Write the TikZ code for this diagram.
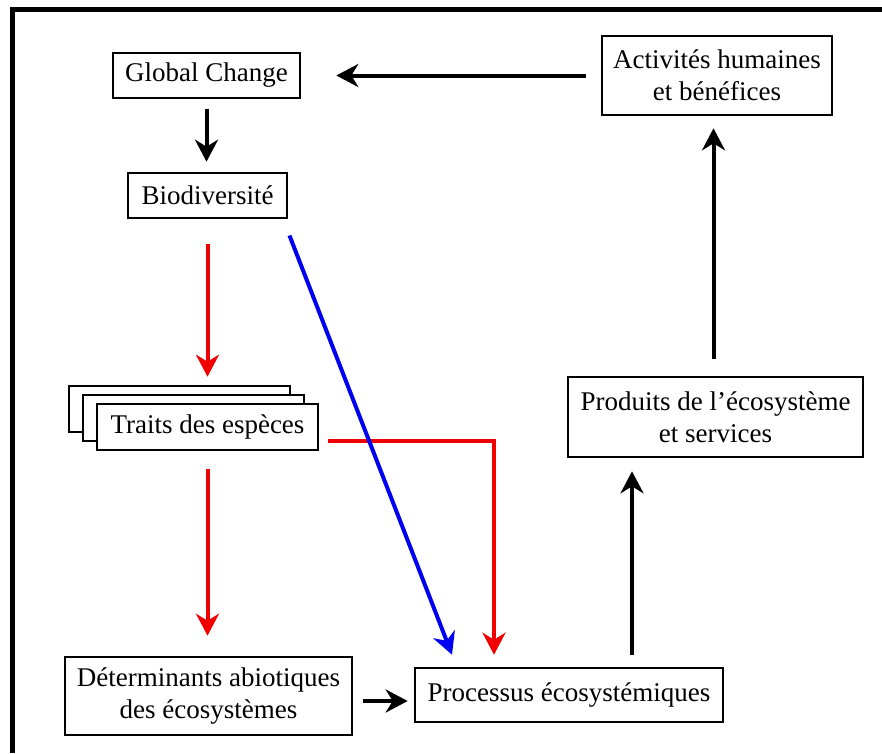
\documentclass[tikz,border=0pt]{standalone}
\usepackage{fontspec}
\setmainfont{Liberation Serif}
\usetikzlibrary{arrows.meta}
\definecolor{linkred}{RGB}{240,0,0}
\definecolor{linkblue}{RGB}{0,0,240}
\begin{document}
\begin{tikzpicture}[x=1pt,y=-1pt,
  box/.style={draw=black,line width=2.6pt,fill=white,inner sep=0pt,align=center,
    font=\fontsize{27}{32}\selectfont},
  arr/.style={line width=4pt,-{Stealth[length=22pt,width=23pt,inset=7pt]}},
  redarr/.style={arr,draw=linkred},
  bluearr/.style={arr,draw=linkblue},
]
\useasboundingbox (0,0) rectangle (882,753);
\fill[white] (0,0) rectangle (882,753);

% outer frame
\draw[line width=5pt] (12,753) -- (12,9) -- (882,9);

% boxes
\node[box,minimum width=187pt,minimum height=45pt] (gc) at (206.5,75.5) {Global Change};
\node[box,minimum width=159pt,minimum height=45pt] (bio) at (207.5,195.5) {Biodiversité};
\node[box,minimum width=230pt,minimum height=79pt] (act) at (717,75.5) {Activités humaines\\et bénéfices};
\node[box,minimum width=221pt,minimum height=46pt] (traits3) at (179.5,409) {};
\node[box,minimum width=221pt,minimum height=46pt] (traits2) at (193.5,418) {};
\node[box,minimum width=221pt,minimum height=46pt] (traits) at (207.5,427) {Traits des espèces};
\node[box,minimum width=295pt,minimum height=80pt] (prod) at (715.5,417) {Produits de l’écosystème\\et services};
\node[box,minimum width=287pt,minimum height=78pt] (det) at (208.5,696) {Déterminants abiotiques\\des écosystèmes};
\node[box,minimum width=308pt,minimum height=54pt] (proc) at (569,695) {Processus écosystémiques};

% black links
\draw[arr,shorten <=15pt,shorten >=35pt] (act.west) -- (gc.east);
\draw[arr,shorten <=10pt,shorten >=10pt] (gc.south) -- (gc.south |- bio.north);
\draw[arr,shorten <=10pt,shorten >=6pt] ([shift={(0,5)}]det.east) -- ([shift={(0,5)}]det.east -| proc.west);
\draw[arr,shorten <=12pt,shorten >=13pt] ([shift={(63,0)}]proc.north) -- ([shift={(63,0)}]proc.north |- prod.south);
\draw[arr,shorten <=17pt,shorten >=12pt] ([shift={(-2,0)}]prod.north) -- ([shift={(-2,0)}]prod.north |- act.south);

% red links
\draw[redarr,shorten <=25pt,shorten >=8pt] (bio.south) -- (bio.south |- traits3.north);
\draw[redarr,shorten <=18pt,shorten >=20pt] (traits.south) -- (traits.south |- det.north);
\draw[redarr] ([shift={(9,14)}]traits.east) -| ([shift={(-75,-12)}]proc.north);

% blue link
\draw[bluearr] ([shift={(82,40)}]bio.center) -- ([shift={(-117,-12)}]proc.north);
\end{tikzpicture}
\end{document}
